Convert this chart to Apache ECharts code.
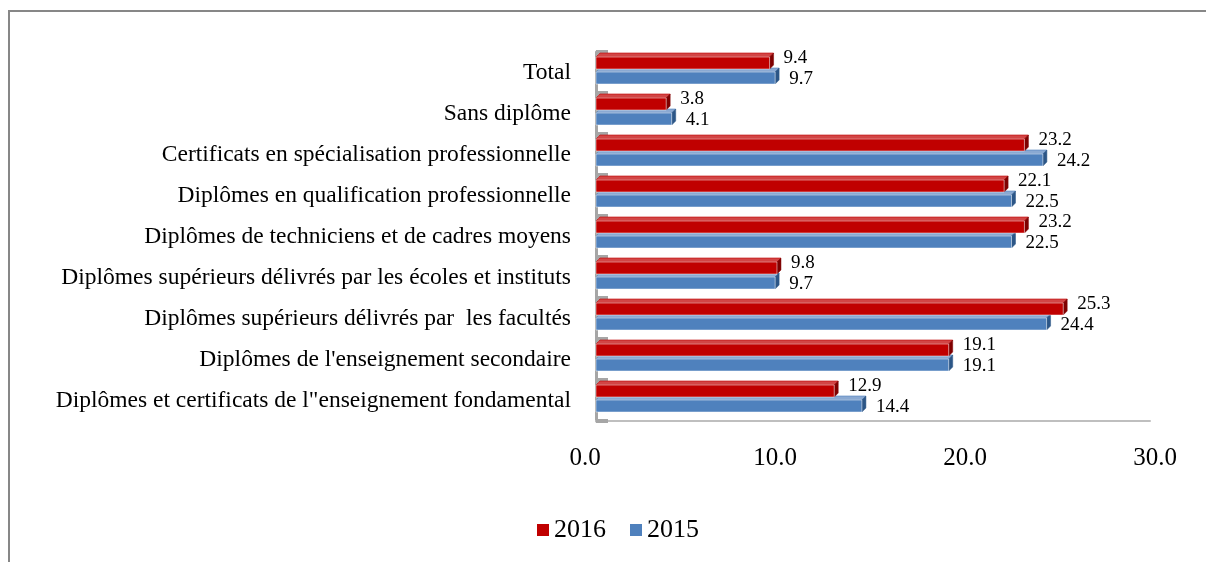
<!DOCTYPE html>
<html><head><meta charset="utf-8">
<script src="https://cdn.jsdelivr.net/npm/echarts@6/dist/echarts.min.js"></script>
<style>
html,body{margin:0;padding:0;background:#fff;}
#frame{position:absolute;left:8px;top:10px;width:1198px;height:552px;border-top:2px solid #878787;border-left:2px solid #878787;}
#c{position:absolute;left:0;top:0;width:1206px;height:562px;}
</style></head>
<body><div id="frame"></div><div id="c"></div>
<script>
const categories = [
  'Total',
  'Sans diplôme',
  'Certificats en spécialisation professionnelle',
  'Diplômes en qualification professionnelle',
  'Diplômes de techniciens et de cadres moyens',
  'Diplômes supérieurs délivrés par les écoles et instituts',
  'Diplômes supérieurs délivrés par  les facultés',
  "Diplômes de l'enseignement secondaire",
  'Diplômes et certificats de l"enseignement fondamental'
];
const values2016 = [9.4, 3.8, 23.2, 22.1, 23.2, 9.8, 25.3, 19.1, 12.9];
const values2015 = [9.7, 4.1, 24.2, 22.5, 22.5, 9.7, 24.4, 19.1, 14.4];
const xTicks = [0, 10, 20, 30];

const FONT = '"Liberation Serif", "DejaVu Serif", serif';
const faces = [
  {front:'#C00000', top:'#D24545', side:'#7F0000'},
  {front:'#4F81BD', top:'#8AA9D2', side:'#2C5687'}
];

function render3d(params, api){
  const s = params.seriesIndex;
  const v = api.value(0), i = api.value(1);
  const p0 = api.coord([0, i]), p1 = api.coord([v, i]);
  const c = p0[1];
  const h = 12, d = 4;
  const y0 = s === 0 ? c - 15.5 : c - 0.5;
  const y1 = y0 + h;
  const x0 = p0[0], x1 = p1[0];
  const f = faces[s];
  return {type:'group', children:[
    {type:'polygon', shape:{points:[[x0,y0],[x0+d,y0-d],[x1+d,y0-d],[x1,y0]]},
     style:{fill:f.top, stroke:f.front, lineWidth:0.6}},
    {type:'polygon', shape:{points:[[x1,y0],[x1+d,y0-d],[x1+d,y1-d],[x1,y1]]},
     style:{fill:f.side, stroke:f.side, lineWidth:0.5}},
    {type:'rect', shape:{x:x0, y:y0, width:x1-x0, height:h},
     style:{fill:f.front, stroke:'rgba(255,255,255,0.6)', lineWidth:0.8}},
    {type:'text', style:{text:v.toFixed(1), x:x1+14, y: s===0 ? c-14.5 : c+6.5,
     align:'left', verticalAlign:'middle', font:'19px ' + FONT, fill:'#000'}}
  ]};
}

const chart = echarts.init(document.getElementById('c'), null, {renderer:'canvas'});
chart.setOption({
  animation:false,
  backgroundColor:'transparent',
  color:['#C00000','#4F81BD'],
  legend:{
    data:['2016','2015'], left:532, top:512, icon:'rect', itemWidth:12, itemHeight:12, itemGap:24,
    textStyle:{fontFamily:FONT, fontSize:26, color:'#000'}
  },
  grid:[
    {left:596, right:56, top:52, bottom:141},
    {left:585, right:51, top:52, bottom:141}
  ],
  xAxis:[
    {type:'value', gridIndex:0, min:0, max:30, interval:10,
     axisLine:{show:true, lineStyle:{color:'#BFBFBF', width:2}},
     axisTick:{show:false}, axisLabel:{show:false}, splitLine:{show:false}},
    {type:'value', gridIndex:1, min:xTicks[0], max:xTicks[xTicks.length-1], interval:10,
     axisLine:{show:false}, axisTick:{show:false}, splitLine:{show:false},
     axisLabel:{margin:25, fontFamily:FONT, fontSize:25, color:'#000', formatter:v=>v.toFixed(1)}}
  ],
  yAxis:[
    {type:'category', gridIndex:0, data:categories, inverse:true, offset:5,
     axisLine:{show:true, lineStyle:{color:'#A6A6A6', width:3}},
     axisTick:{show:true, inside:true, length:12, lineStyle:{color:'#A6A6A6', width:4}},
     axisLabel:{margin:20, fontFamily:FONT, fontSize:23.5, color:'#000'}},
    {type:'category', gridIndex:1, data:categories, show:false}
  ],
  series:[
    {name:'2016', type:'custom', renderItem:render3d, z:3, xAxisIndex:0, yAxisIndex:0,
     itemStyle:{color:'#C00000'}, encode:{x:0, y:1},
     data: values2016.map((v,i)=>[v,i])},
    {name:'2015', type:'custom', renderItem:render3d, z:2, xAxisIndex:0, yAxisIndex:0,
     itemStyle:{color:'#4F81BD'}, encode:{x:0, y:1},
     data: values2015.map((v,i)=>[v,i])}
  ]
});
</script></body></html>
